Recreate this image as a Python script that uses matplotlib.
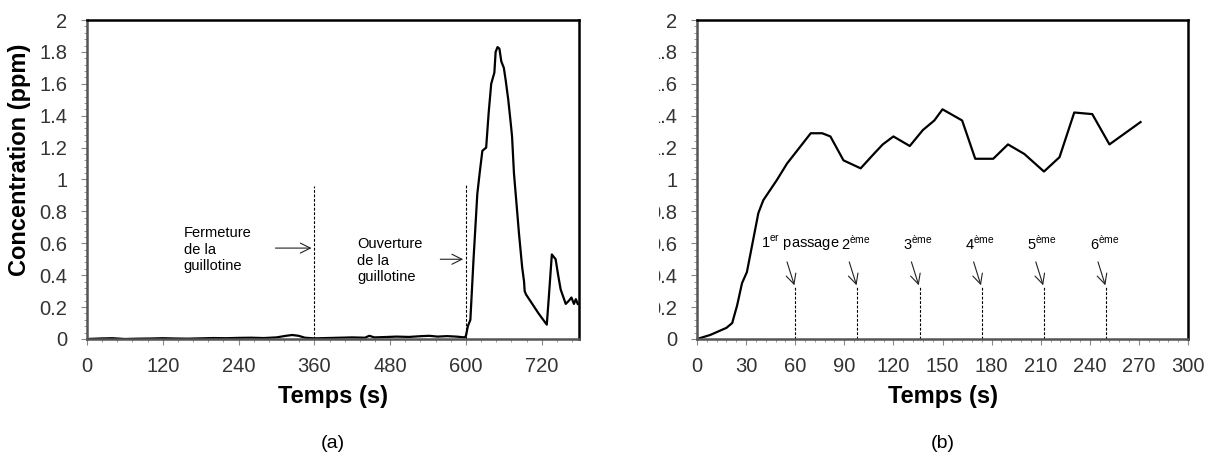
import matplotlib
matplotlib.use("Agg")
import matplotlib.pyplot as plt
from matplotlib.ticker import MultipleLocator, AutoMinorLocator, FuncFormatter
from matplotlib.transforms import Bbox, TransformedBbox

plt.rcParams['font.family'] = ['Liberation Sans', 'DejaVu Sans']
plt.rcParams['mathtext.fontset'] = 'custom'
plt.rcParams['mathtext.rm'] = 'Liberation Sans'

# (a) guillotine fermeture / ouverture
t_a = [0, 20, 40, 60, 80, 100, 120, 140, 160, 180, 200, 220, 240, 260, 280,
       300, 315, 325, 335, 345, 360, 380, 400, 420, 440, 447, 455, 470, 490,
       510, 530, 542, 555, 570, 585, 598,
       600, 603, 607, 612, 618, 622, 626, 632, 636, 640, 645, 647, 650, 653,
       656, 660, 663, 667, 671, 673, 676, 680, 684, 689, 692, 693, 695, 705,
       715, 728, 731, 736, 742, 746, 750, 758, 763, 767, 771, 774, 777]
c_a = [0.0, 0.003, 0.005, 0.0, 0.002, 0.003, 0.005, 0.003, 0.002, 0.004,
       0.006, 0.005, 0.007, 0.008, 0.006, 0.01, 0.02, 0.025, 0.02, 0.008,
       0.004, 0.006, 0.008, 0.01, 0.008, 0.02, 0.01, 0.012, 0.015, 0.013,
       0.018, 0.02, 0.015, 0.018, 0.015, 0.01,
       0.02, 0.08, 0.12, 0.5, 0.91, 1.05, 1.18, 1.2, 1.42, 1.6, 1.67, 1.8,
       1.83, 1.82, 1.74, 1.7, 1.62, 1.5, 1.35, 1.27, 1.04, 0.85, 0.66, 0.45,
       0.36, 0.3, 0.28, 0.22, 0.16, 0.09, 0.25, 0.53, 0.5, 0.4, 0.31, 0.22,
       0.24, 0.26, 0.22, 0.25, 0.22]
t_fermeture = 360
t_ouverture = 600

# (b) passages
t_b = [0, 8, 18, 21.5, 24.5, 27.5, 30.5, 37.5, 40.5, 49, 55, 69.5, 76.5, 81.5,
       89.5, 100, 108, 113.5, 120, 130, 138, 145, 150, 162, 170, 181, 190, 200,
       212, 221.5, 230.5, 241.5, 252, 271]
c_b = [0, 0.025, 0.07, 0.1, 0.21, 0.35, 0.42, 0.79, 0.87, 1.0, 1.1, 1.29, 1.29,
       1.27, 1.12, 1.07, 1.16, 1.22, 1.27, 1.21, 1.31, 1.37, 1.44, 1.37, 1.13,
       1.13, 1.22, 1.16, 1.05, 1.14, 1.42, 1.41, 1.22, 1.36]
t_passages = [60, 98, 136, 174, 212, 250]
passage_labels = [r"1$^{\mathregular{er}}$ passage", r"2$^{\mathregular{ème}}$",
                  r"3$^{\mathregular{ème}}$", r"4$^{\mathregular{ème}}$",
                  r"5$^{\mathregular{ème}}$", r"6$^{\mathregular{ème}}$"]

fig = plt.figure(figsize=(12.12, 4.53), dpi=100)
W, H = 1212, 453
ax1 = fig.add_axes([87 / W, 1 - 339 / H, (579 - 87) / W, (339 - 20) / H])
ax2 = fig.add_axes([697 / W, 1 - 339 / H, (1188 - 697) / W, (339 - 20) / H])

fmt = FuncFormatter(lambda v, p: f"{v:g}")
for ax in (ax1, ax2):
    ax.set_ylim(0, 2)
    ax.yaxis.set_major_locator(MultipleLocator(0.2))
    ax.yaxis.set_minor_locator(AutoMinorLocator(5))
    ax.yaxis.set_major_formatter(fmt)
    ax.xaxis.set_minor_locator(AutoMinorLocator(5))
    ax.tick_params(which='both', direction='out', color='#888888')
    ax.tick_params(which='major', length=4, labelsize=14.5, labelcolor='#333333')
    ax.tick_params(which='minor', length=2.5)
    ax.tick_params(axis='y', pad=10)
    ax.tick_params(axis='x', pad=9)
    for s in ax.spines.values():
        s.set_linewidth(1.8)
        s.set_color('black')
    ax.spines['left'].set_color('#555555')
    ax.spines['bottom'].set_color('#555555')

# (a)
ax1.plot(t_a, c_a, color='black', lw=1.6)
ax1.set_xlim(0, 779)
ax1.xaxis.set_major_locator(MultipleLocator(120))
ann_kw = dict(fontsize=10.5, va='top', ha='left', linespacing=1.25)
arrow_kw = dict(arrowstyle='->', color='#222222', lw=0.8, mutation_scale=18)
ax1.plot([t_fermeture, t_fermeture], [0, 0.96], ls='--', color='black', lw=0.8, dashes=(2.5, 1.5))
ax1.plot([t_ouverture, t_ouverture], [0, 0.97], ls='--', color='black', lw=0.8, dashes=(2.5, 1.5))
ax1.text(153, 0.71, "Fermeture\nde la\nguillotine", **ann_kw)
ax1.annotate("", xy=(t_fermeture, 0.57), xytext=(294, 0.57), arrowprops=arrow_kw)
ax1.text(428, 0.64, "Ouverture\nde la\nguillotine", **ann_kw)
ax1.annotate("", xy=(t_ouverture, 0.50), xytext=(555, 0.50), arrowprops=arrow_kw)

# (b)
ax2.plot(t_b, c_b, color='black', lw=1.6)
ax2.set_xlim(0, 300)
ax2.xaxis.set_major_locator(MultipleLocator(30))
for i, (tp, lab) in enumerate(zip(t_passages, passage_labels)):
    ax2.plot([tp, tp], [0, 0.33], ls='--', color='black', lw=0.8, dashes=(2.5, 1.5))
    ax2.annotate("", xy=(tp, 0.32), xytext=(tp - 5.5, 0.5), arrowprops=arrow_kw)
    if i == 0:
        ax2.text(tp - 21, 0.6, lab, fontsize=10.5, ha='left', va='center')
    else:
        ax2.text(tp - 1, 0.6, lab, fontsize=10.5, ha='center', va='center')

# right panel tick labels are cut on the left side in the original
fig.canvas.draw()
clip = TransformedBbox(Bbox([[659 / W, 0], [1, 1]]), fig.transFigure)
for lab in ax2.get_yticklabels():
    lab.set_clip_box(clip)
    lab.set_clip_on(True)

fig.text(20 / W, 1 - 160 / H, "Concentration (ppm)", rotation=90, fontsize=17,
         fontweight='bold', ha='center', va='center')
for ax, letter in ((ax1, "(a)"), (ax2, "(b)")):
    pos = ax.get_position()
    xc = (pos.x0 + pos.x1) / 2
    fig.text(xc, 1 - 397 / H, "Temps (s)", fontsize=17, fontweight='bold',
             ha='center', va='center')
    fig.text(xc, 1 - 443 / H, letter, fontsize=14, ha='center', va='center')

fig.savefig("out.png", dpi=100)
